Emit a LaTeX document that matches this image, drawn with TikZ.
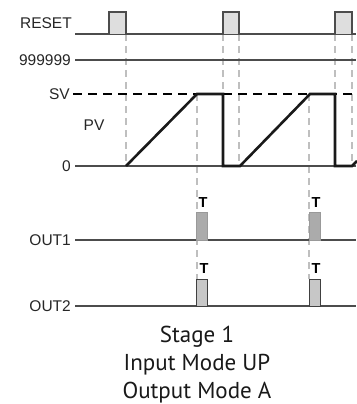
\documentclass[tikz,border=0pt]{standalone}
\usepackage{fontspec}
\setmainfont{Liberation Sans}
\newfontfamily\captionfont{PT Sans}
\begin{document}
\begin{tikzpicture}[x=1pt,y=-1pt,
  sigline/.style={draw=black!70,line width=1.1pt},
  guide/.style={draw=black!25,line width=1.4pt,dash pattern=on 7pt off 5pt},
  pvline/.style={draw=black!90,line width=2.6pt,line join=miter},
  svline/.style={draw=black,line width=2pt,dash pattern=on 9pt off 6pt},
  resetpulse/.style={fill=black!13,draw=black!70,line width=1.1pt},
  out1pulse/.style={fill=black!33,draw=black!40,line width=0.8pt},
  out2pulse/.style={fill=black!22,draw=black!75,line width=0.8pt},
  lab/.style={anchor=east,inner sep=0pt,font=\fontsize{15.5}{16}\selectfont,text=black!85},
  tlab/.style={inner sep=0pt,font=\fontsize{14.5}{15}\selectfont\bfseries},
  captext/.style={inner sep=0pt,font=\captionfont\fontsize{23}{24}\selectfont,text=black!90}]
\useasboundingbox (0,0) rectangle (356,404);
% labels
\node[lab] (lreset) at (72,23) {RESET};
\node[lab] (l999) at (71,60) {999999};
\node[lab] (lsv) at (70,94) {SV};
\node[lab,anchor=center] (lpv) at (94,125) {PV};
\node[lab] (lzero) at (71,166) {0};
\node[lab] (lout1) at (71,240) {OUT1};
\node[lab] (lout2) at (71,306) {OUT2};
% guides
\draw[guide] (126,34) -- (126,166);
\draw[guide] (197,94) -- (197,279);
\draw[guide] (223,34) -- (223,94);
\draw[guide] (239,34) -- (239,166);
\draw[guide] (309,94) -- (309,279);
\draw[guide] (335,34) -- (335,94);
\draw[guide] (352,34) -- (352,166);
% signal lines
\coordinate (rs) at (75,34); \coordinate (re) at (356,34);
\draw[sigline] (rs) -- (re);
\coordinate (ns) at (75,60); \coordinate (ne) at (356,60);
\draw[sigline] (ns) -- (ne);
\coordinate (zs) at (75,166); \coordinate (ze) at (356,166);
\draw[sigline] (zs) -- (ze);
\coordinate (o1s) at (75,240); \coordinate (o1e) at (356,240);
\draw[sigline] (o1s) -- (o1e);
\coordinate (o2s) at (75,306); \coordinate (o2e) at (356,306);
\draw[sigline] (o2s) -- (o2e);
\coordinate (ss) at (73,94); \coordinate (se) at (356,94);
\draw[svline] (ss) -- (se);
% reset pulses
\draw[resetpulse] (109,34) -- (109,12) -- (126,12) -- (126,34);
\draw[resetpulse] (223,34) -- (223,12) -- (239,12) -- (239,34);
\draw[resetpulse] (335,34) -- (335,12) -- (352,12) -- (352,34);
% PV waveform
\draw[pvline] (126,166) -- (197,94) -- (223,94) -- (223,166) -- (240,166) -- (310,94) -- (335,94) -- (335,166) -- (352,166) -- (357,161);
% output pulses
\draw[out1pulse] (196,240) rectangle (207,212);
\draw[out1pulse] (309,240) rectangle (320,212);
\draw[out2pulse] (196,306) rectangle (207,279);
\draw[out2pulse] (309,306) rectangle (320,279);
\node[tlab] (t1) at (203,203) {T};
\node[tlab] (t2) at (316,203) {T};
\node[tlab] (t3) at (204,269) {T};
\node[tlab] (t4) at (316,269) {T};
% caption
\node[captext] (c1) at (197,337) {Stage 1};
\node[captext] (c2) at (197,365) {Input Mode UP};
\node[captext] (c3) at (197,393) {Output Mode A};
\end{tikzpicture}
\end{document}
